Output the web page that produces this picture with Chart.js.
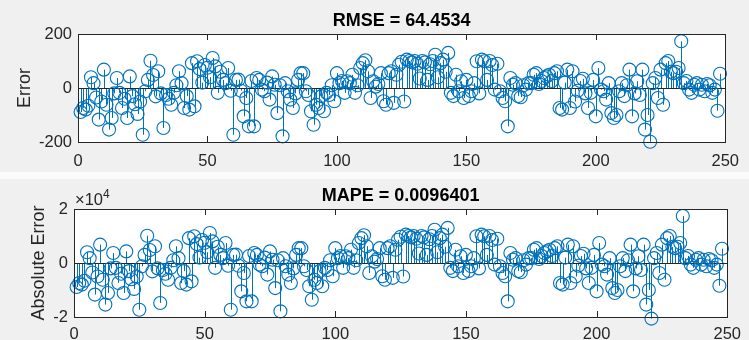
<!DOCTYPE html>
<html>
<head>
<meta charset="utf-8">
<script src="https://cdn.jsdelivr.net/npm/chart.js@4"></script>
<style>
  html, body { margin: 0; padding: 0; background: #f0f0f0; }
  #wrap { position: relative; width: 749px; height: 340px; overflow: hidden; }
  canvas { position: absolute; left: 0; }
  #errChart { top: 0; }
  #absChart { top: 172px; }
  #gap { position: absolute; left: 0; top: 172px; width: 749px; height: 7px; background: #fbfbfb; }
</style>
</head>
<body>
<div id="wrap">
  <canvas id="errChart" width="749" height="172"></canvas>
  <canvas id="absChart" width="749" height="168"></canvas>
  <div id="gap"></div>
</div>
<script>
// Prediction error per sample (top plot)
const errorVals = [
  -89, -74, -80, -66, 40, 18, -35, -117, -50, 68,
  -62, -154, -111, -20, 37, -18, -74, -40, -111, 43,
  -30, -60, -96, -50, -173, -12, 30, 101, 48, -31,
  62, -20, -148, -26, -40, -62, -18, 10, 62, 18,
  -74, -30, -80, 92, -68, 99, 70, 20, 85, 75,
  40, 111, 80, -18, 60, 30, 18, 74, -10, -173,
  30, 31, -10, -105, -37, -142, 26, -142, 37, 30,
  -6, -12, 20, -43, 43, 12, -93, 10, -179, 18,
  -12, -43, -74, -20, 30, 55, 55, -12, -26, -86,
  -136, -62, -74, -30, -86, -18, -26, 10, -49, 55,
  18, 26, -18, 25, 18, 49, -18, 10, 74, 92,
  103, 62, -37, 25, 5, 15, 55, -49, -62, 55,
  62, -55, 49, 86, 97, -50, 105, 100, 95, 100,
  90, 35, 100, 95, 30, 88, 100, 123, 40, 92,
  105, 60, 130, -18, -30, 49, -12, 25, -37, 30,
  -30, -12, 18, 99, -20, 105, 99, 30, 100, 85,
  -6, 90, -12, -37, -49, -142, 37, 12, 18, -30,
  -34, 10, -6, 18, 18, 49, 55, 15, 26, 37,
  43, 49, 26, 55, 62, -74, -80, 20, 68, -74,
  62, -50, -10, 26, 34, -20, -74, -18, 30, -105,
  74, -6, -12, -43, 18, -93, -111, -100, -12, 18,
  -30, 10, 68, -105, -20, 25, -26, 68, -154, -100,
  -199, 18, 37, -37, 68, -62, 92, 100, 60, 55,
  60, 74, 173, 18, 26, -6, -18, 12, 18, -6,
  12, -12, 15, 10, -18, -6, -84, 53
];

// Absolute error per sample (bottom plot)
const absErrVals = [
  -8900, -7400, -8000, -6600, 4000, 1800, -3500, -11700, -5000, 6800,
  -6200, -15400, -11100, -2000, 3700, -1800, -7400, -4000, -11100, 4300,
  -3000, -6000, -9600, -5000, -17300, -1200, 3000, 10100, 4800, -3100,
  6200, -2000, -14800, -2600, -4000, -6200, -1800, 1000, 6200, 1800,
  -7400, -3000, -8000, 9200, -6800, 9900, 7000, 2000, 8500, 7500,
  4000, 11100, 8000, -1800, 6000, 3000, 1800, 7400, -1000, -17300,
  3000, 3100, -1000, -10500, -3700, -14200, 2600, -14200, 3700, 3000,
  -600, -1200, 2000, -4300, 4300, 1200, -9300, 1000, -17900, 1800,
  -1200, -4300, -7400, -2000, 3000, 5500, 5500, -1200, -2600, -8600,
  -13600, -6200, -7400, -3000, -8600, -1800, -2600, 1000, -4900, 5500,
  1800, 2600, -1800, 2500, 1800, 4900, -1800, 1000, 7400, 9200,
  10300, 6200, -3700, 2500, 500, 1500, 5500, -4900, -6200, 5500,
  6200, -5500, 4900, 8600, 9700, -5000, 10500, 10000, 9500, 10000,
  9000, 3500, 10000, 9500, 3000, 8800, 10000, 12300, 4000, 9200,
  10500, 6000, 13000, -1800, -3000, 4900, -1200, 2500, -3700, 3000,
  -3000, -1200, 1800, 9900, -2000, 10500, 9900, 3000, 10000, 8500,
  -600, 9000, -1200, -3700, -4900, -14200, 3700, 1200, 1800, -3000,
  -3400, 1000, -600, 1800, 1800, 4900, 5500, 1500, 2600, 3700,
  4300, 4900, 2600, 5500, 6200, -7400, -8000, 2000, 6800, -7400,
  6200, -5000, -1000, 2600, 3400, -2000, -7400, -1800, 3000, -10500,
  7400, -600, -1200, -4300, 1800, -9300, -11100, -10000, -1200, 1800,
  -3000, 1000, 6800, -10500, -2000, 2500, -2600, 6800, -15400, -10000,
  -20600, 1800, 3700, -3700, 6800, -6200, 9200, 10000, 6000, 5500,
  6000, 7400, 17400, 1800, 2600, -600, -1800, 1200, 1800, -600,
  1200, -1200, 1500, 1000, -1800, -600, -8400, 5300
];

const xTickVals = [0, 50, 100, 150, 200, 250];
const errTickVals = [-200, 0, 200];
const absTickVals = [-20000, 0, 20000];
const absTickLabels = ['-2', '0', '2'];

const FONT = '"Liberation Sans", Arial, Helvetica, sans-serif';
const AXIS_COLOR = '#262626';
const STEM_COLOR = '#0072BD';

// white plot area, stems, baseline, box and inward ticks (MATLAB look)
const stemPlugin = {
  id: 'stems',
  beforeDatasetsDraw(chart) {
    const { ctx, chartArea: a, scales: { x, y } } = chart;
    const y0 = Math.round(y.getPixelForValue(0)) + 0.5;
    ctx.save();
    ctx.fillStyle = '#ffffff';
    ctx.fillRect(a.left, a.top, a.right - a.left, a.bottom - a.top);
    ctx.strokeStyle = STEM_COLOR;
    ctx.lineWidth = 1;
    chart.data.datasets[0].data.forEach(p => {
      const px = Math.round(x.getPixelForValue(p.x)) + 0.5;
      ctx.beginPath();
      ctx.moveTo(px, y0);
      ctx.lineTo(px, y.getPixelForValue(p.y));
      ctx.stroke();
    });
    ctx.strokeStyle = AXIS_COLOR;
    ctx.beginPath();
    ctx.moveTo(a.left, y0);
    ctx.lineTo(a.right, y0);
    ctx.stroke();
    ctx.restore();
  },
  afterDatasetsDraw(chart) {
    const { ctx, chartArea: a, scales: { x, y } } = chart;
    const tl = 6;
    ctx.save();
    ctx.strokeStyle = AXIS_COLOR;
    ctx.lineWidth = 1;
    ctx.beginPath();
    x.ticks.forEach(t => {
      const px = Math.round(x.getPixelForValue(t.value)) + 0.5;
      ctx.moveTo(px, a.bottom); ctx.lineTo(px, a.bottom - tl);
      ctx.moveTo(px, a.top); ctx.lineTo(px, a.top + tl);
    });
    y.ticks.forEach(t => {
      const py = Math.round(y.getPixelForValue(t.value)) + 0.5;
      ctx.moveTo(a.left, py); ctx.lineTo(a.left + tl, py);
      ctx.moveTo(a.right, py); ctx.lineTo(a.right - tl, py);
    });
    ctx.stroke();
    ctx.strokeRect(Math.round(a.left) + 0.5, Math.round(a.top) + 0.5,
      Math.round(a.right - a.left), Math.round(a.bottom - a.top));
    ctx.restore();
  }
};

// axes title centred over the plot area, plus optional exponent note
const headerPlugin = {
  id: 'header',
  afterDraw(chart, args, opts) {
    const { ctx, chartArea: a } = chart;
    ctx.save();
    ctx.fillStyle = '#000000';
    ctx.font = 'bold 18px ' + FONT;
    ctx.textAlign = 'center';
    ctx.textBaseline = 'alphabetic';
    ctx.fillText(opts.text, (a.left + a.right) / 2, a.top - 8);
    if (opts.exponent) {
      ctx.fillStyle = AXIS_COLOR;
      ctx.textAlign = 'left';
      ctx.font = '16.5px ' + FONT;
      const base = '\u00d710';
      ctx.fillText(base, a.left + 1, a.top - 4);
      const w = ctx.measureText(base).width;
      ctx.font = '12px ' + FONT;
      ctx.fillText(opts.exponent, a.left + 1 + w, a.top - 11);
    }
    ctx.restore();
  }
};

function makeStemChart(id, cfg) {
  return new Chart(document.getElementById(id), {
    type: 'scatter',
    data: {
      datasets: [{
        data: cfg.values.map((v, i) => ({ x: i + 1, y: v })),
        pointStyle: 'circle',
        pointRadius: 6.5,
        pointBorderWidth: 1.1,
        pointBorderColor: STEM_COLOR,
        pointBackgroundColor: 'rgba(0,0,0,0)',
        showLine: false,
        clip: false
      }]
    },
    options: {
      responsive: false,
      animation: false,
      events: [],
      layout: { padding: { top: cfg.top, right: cfg.right, left: 0, bottom: 0 } },
      plugins: {
        legend: { display: false },
        tooltip: { enabled: false },
        header: { text: cfg.title, exponent: cfg.exponent }
      },
      scales: {
        x: {
          type: 'linear', min: 0, max: 250,
          grid: { display: false, drawTicks: false },
          border: { display: false },
          afterBuildTicks: s => { s.ticks = xTickVals.map(v => ({ value: v })); },
          ticks: {
            autoSkip: false, maxRotation: 0, padding: cfg.xPad,
            color: AXIS_COLOR, font: { family: FONT, size: 16.5 }
          },
          afterFit: s => { s.height = cfg.xHeight; }
        },
        y: {
          min: cfg.yTicks[0], max: cfg.yTicks[cfg.yTicks.length - 1],
          grid: { display: false, drawTicks: false },
          border: { display: false },
          afterBuildTicks: s => { s.ticks = cfg.yTicks.map(v => ({ value: v })); },
          ticks: {
            autoSkip: false, padding: 6,
            color: AXIS_COLOR, font: { family: FONT, size: 16.5 },
            callback: (v) => cfg.yLabels ? cfg.yLabels[cfg.yTicks.indexOf(v)] : String(v)
          },
          title: {
            display: true, text: cfg.yTitle, color: AXIS_COLOR,
            font: { family: FONT, size: 18 },
            padding: { top: cfg.yTitlePad, bottom: 0 }
          },
          afterFit: s => { s.width = cfg.left; }
        }
      }
    },
    plugins: [stemPlugin, headerPlugin]
  });
}

makeStemChart('errChart', {
  values: errorVals, title: 'RMSE = 64.4534', yTitle: 'Error',
  yTicks: errTickVals, top: 34, right: 14, left: 78,
  xHeight: 30, xPad: 10, yTitlePad: 14
});

makeStemChart('absChart', {
  values: absErrVals, title: 'MAPE = 0.0096401', yTitle: 'Absolute Error',
  yTicks: absTickVals, yLabels: absTickLabels, exponent: '4',
  top: 37, right: 19, left: 74,
  xHeight: 23, xPad: 8, yTitlePad: 28
});
</script>
</body>
</html>
